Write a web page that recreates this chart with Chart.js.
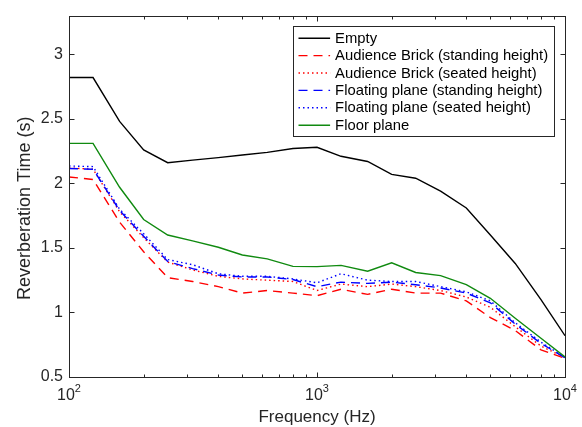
<!DOCTYPE html>
<html>
<head>
<meta charset="utf-8">
<script src="https://cdn.jsdelivr.net/npm/chart.js@4.4.1/dist/chart.umd.min.js"></script>
<style>
  html, body { margin: 0; padding: 0; background: #fff; }
  #wrap { width: 582px; height: 427px; }
</style>
</head>
<body>
<div id="wrap"><canvas id="rtChart" width="582" height="427"></canvas></div>
<script>
// third-octave band centres (Hz)
const freqs = [100, 125, 160, 200, 250, 315, 400, 500, 630, 800, 1000,
  1250, 1600, 2000, 2500, 3150, 4000, 5000, 6300, 8000, 10000];

// reverberation time per band (s)
const rtEmpty = [2.82, 2.82, 2.48, 2.26, 2.16, 2.18, 2.20, 2.22, 2.24, 2.27, 2.28,
  2.21, 2.17, 2.07, 2.04, 1.94, 1.81, 1.60, 1.38, 1.10, 0.82];
const rtBrickStanding = [2.05, 2.03, 1.70, 1.47, 1.27, 1.24, 1.20, 1.15, 1.17, 1.15, 1.13,
  1.18, 1.14, 1.18, 1.15, 1.15, 1.09, 0.96, 0.86, 0.71, 0.645];
const rtBrickSeated = [2.12, 2.11, 1.78, 1.58, 1.39, 1.33, 1.28, 1.26, 1.25, 1.24, 1.17,
  1.22, 1.20, 1.22, 1.20, 1.17, 1.12, 1.04, 0.89, 0.74, 0.65];
const rtFloatStanding = [2.115, 2.11, 1.79, 1.59, 1.395, 1.34, 1.29, 1.275, 1.275, 1.255, 1.20,
  1.235, 1.225, 1.235, 1.215, 1.19, 1.15, 1.075, 0.91, 0.76, 0.65];
const rtFloatSeated = [2.135, 2.13, 1.80, 1.61, 1.41, 1.37, 1.30, 1.28, 1.28, 1.26, 1.23,
  1.30, 1.25, 1.24, 1.24, 1.20, 1.16, 1.09, 0.92, 0.77, 0.65];
const rtFloor = [2.31, 2.31, 1.97, 1.72, 1.60, 1.555, 1.505, 1.445, 1.415, 1.357, 1.355,
  1.365, 1.32, 1.385, 1.31, 1.285, 1.215, 1.11, 0.955, 0.80, 0.655];

const yTicks = [0.5, 1, 1.5, 2, 2.5, 3];
const xDecades = [2, 3, 4];

const AXIS_COLOR = "#262626";
const FONT = "'Liberation Sans', Arial, Helvetica, sans-serif";

function series(label, values, color, dash) {
  return {
    label,
    data: freqs.map((f, i) => ({ x: f, y: values[i] })),
    borderColor: color,
    borderWidth: 1.4,
    borderDash: dash,
    borderCapStyle: "butt",
    pointRadius: 0,
    tension: 0,
    fill: false
  };
}

const datasets = [
  series("Empty", rtEmpty, "#000000", []),
  series("Audience Brick (standing height)", rtBrickStanding, "#ff0000", [9, 6]),
  series("Audience Brick (seated height)", rtBrickSeated, "#ff0000", [1.5, 3]),
  series("Floating plane (standing height)", rtFloatStanding, "#0000ff", [9, 6]),
  series("Floating plane (seated height)", rtFloatSeated, "#0000ff", [1.5, 3]),
  series("Floor plane", rtFloor, "#108a10", [])
];
// later series paint over earlier ones
datasets.forEach((d, i) => { d.order = -i; });

// box, inward ticks, tick labels, axis titles and legend
const axesDecor = {
  id: "axesDecor",
  afterDatasetsDraw(chart) {
    const ctx = chart.ctx;
    const a = chart.chartArea;
    const xs = chart.scales.x;
    const ys = chart.scales.y;
    const L = Math.round(a.left) + 0.5, R = Math.round(a.right) + 0.5;
    const T = Math.round(a.top) + 0.5, B = Math.round(a.bottom) + 0.5;

    ctx.save();
    ctx.strokeStyle = AXIS_COLOR;
    ctx.lineWidth = 1;
    ctx.strokeRect(L, T, R - L, B - T);

    ctx.beginPath();
    // x ticks, major and minor, top and bottom
    for (let e = 2; e <= 4; e++) {
      for (let m = 1; m <= 9; m++) {
        const v = m * Math.pow(10, e);
        if (v > 10000) break;
        const px = Math.round(xs.getPixelForValue(v)) + 0.5;
        const len = m === 1 ? 5 : 3;
        ctx.moveTo(px, B); ctx.lineTo(px, B - len);
        ctx.moveTo(px, T); ctx.lineTo(px, T + len);
      }
    }
    // y ticks left and right
    yTicks.forEach(v => {
      const py = Math.round(ys.getPixelForValue(v)) + 0.5;
      ctx.moveTo(L, py); ctx.lineTo(L + 5, py);
      ctx.moveTo(R, py); ctx.lineTo(R - 5, py);
    });
    ctx.stroke();

    // x tick labels as 10^n
    ctx.fillStyle = AXIS_COLOR;
    ctx.textBaseline = "alphabetic";
    xDecades.forEach(e => {
      const px = xs.getPixelForValue(Math.pow(10, e));
      ctx.font = `16px ${FONT}`;
      const wBase = ctx.measureText("10").width;
      ctx.font = `11px ${FONT}`;
      const wExp = ctx.measureText(String(e)).width;
      const x0 = px - (wBase + wExp) / 2;
      ctx.font = `16px ${FONT}`;
      ctx.textAlign = "left";
      ctx.fillText("10", x0, B + 22);
      ctx.font = `11px ${FONT}`;
      ctx.fillText(String(e), x0 + wBase, B + 14);
    });

    // axis titles
    ctx.font = `17px ${FONT}`;
    ctx.textAlign = "center";
    ctx.fillText("Frequency (Hz)", (a.left + a.right) / 2, B + 44);
    ctx.save();
    ctx.translate(30, (a.top + a.bottom) / 2 + 12);
    ctx.rotate(-Math.PI / 2);
    ctx.font = `18px ${FONT}`;
    ctx.fillText("Reverberation Time (s)", 0, 0);
    ctx.restore();

    // legend
    ctx.font = `14.8px ${FONT}`;
    const items = chart.data.datasets;
    const textW = Math.max(...items.map(d => ctx.measureText(d.label).width));
    const rowH = 17.4;
    const boxW = Math.round(41.6 + textW + 6.6);
    const boxH = Math.round(items.length * rowH + 5.6);
    const bx = Math.round(a.right - 11 - boxW) + 0.5;
    const by = Math.round(a.top + 10) + 0.5;
    ctx.fillStyle = "#ffffff";
    ctx.fillRect(bx, by, boxW, boxH);
    ctx.strokeStyle = AXIS_COLOR;
    ctx.lineWidth = 1;
    ctx.setLineDash([]);
    ctx.strokeRect(bx, by, boxW, boxH);

    ctx.textAlign = "left";
    ctx.textBaseline = "middle";
    items.forEach((d, i) => {
      const cy = by + 11.7 + i * rowH;
      ctx.beginPath();
      ctx.strokeStyle = d.borderColor;
      ctx.lineWidth = d.borderWidth;
      ctx.setLineDash(d.borderDash || []);
      ctx.moveTo(bx + 5, cy);
      ctx.lineTo(bx + 36.6, cy);
      ctx.stroke();
      ctx.setLineDash([]);
      ctx.fillStyle = "#000000";
      ctx.fillText(d.label, bx + 41.6, cy + 0.5);
    });
    ctx.restore();
  }
};

new Chart(document.getElementById("rtChart"), {
  type: "line",
  data: { datasets },
  options: {
    responsive: false,
    animation: false,
    devicePixelRatio: 1,
    layout: { padding: { top: 9, right: 17, left: 0, bottom: 0 } },
    plugins: { legend: { display: false }, tooltip: { enabled: false } },
    scales: {
      x: {
        type: "logarithmic",
        min: 100,
        max: 10000,
        grid: { display: false, drawTicks: false },
        border: { display: false },
        ticks: { display: false },
        afterFit: s => { s.height = 50; }
      },
      y: {
        min: 0.5,
        max: 3.3,
        grid: { display: false, drawTicks: false },
        border: { display: false },
        ticks: {
          stepSize: 0.5,
          padding: 6,
          color: AXIS_COLOR,
          font: { family: FONT, size: 16 },
          callback: v => String(v)
        },
        afterBuildTicks: s => {
          s.ticks = yTicks.map(v => ({ value: v }));
        },
        afterFit: s => { s.width = 69; }
      }
    }
  },
  plugins: [axesDecor]
});
</script>
</body>
</html>
